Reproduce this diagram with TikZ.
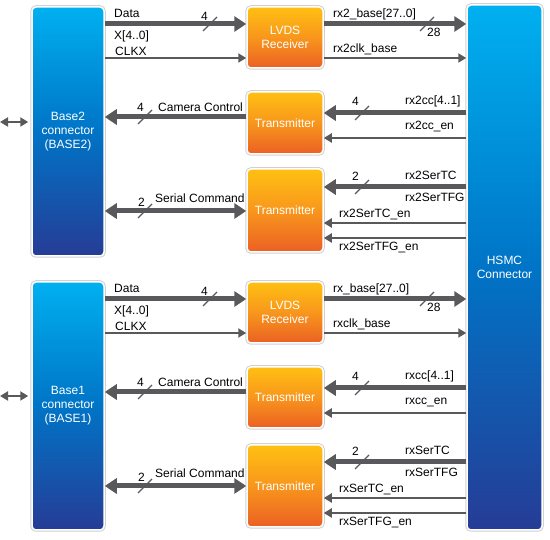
\documentclass[tikz,border=0pt]{standalone}
\usepackage{fontspec}
\setmainfont{Liberation Sans}
\usetikzlibrary{arrows.meta}

\definecolor{busGris}{RGB}{89,89,91}
\definecolor{bleuHaut}{RGB}{0,176,240}
\definecolor{bleuMilieu}{RGB}{0,116,198}
\definecolor{bleuBas}{RGB}{38,60,150}
\definecolor{orangeHaut}{RGB}{255,192,18}
\definecolor{orangeMilieu}{RGB}{248,150,28}
\definecolor{orangeBas}{RGB}{235,96,36}

\begin{document}
\begin{tikzpicture}[x=1pt,y=-1pt,font=\fontsize{12}{14}\selectfont]
    		\tikzstyle{blocBleu}=[rounded corners=4pt, draw=white, line width=1.5pt, inner sep=0pt,
    		    top color=bleuHaut, bottom color=bleuBas, middle color=bleuMilieu,
    		    text=white, align=center, preaction={draw=black!18, line width=3.5pt}]
    		\tikzstyle{blocOrange}=[rounded corners=4pt, draw=white, line width=1.5pt, inner sep=0pt,
    		    top color=orangeHaut, bottom color=orangeBas, middle color=orangeMilieu,
    		    text=white, align=center, preaction={draw=black!18, line width=3.5pt},
    		    minimum width=76pt]
    		\tikzstyle{busEpais}=[draw=busGris, line width=5pt, -{Triangle[length=12pt,width=15pt]}]
    		\tikzstyle{busDouble}=[draw=busGris, line width=5pt,
    		    {Triangle[length=12pt,width=15pt]}-{Triangle[length=12pt,width=15pt]}]
    		\tikzstyle{filFin}=[draw=busGris, line width=2.2pt, -{Triangle[length=8pt,width=9pt]}]
    		\tikzstyle{filDouble}=[draw=busGris, line width=2.2pt,
    		    {Triangle[length=8pt,width=9pt]}-{Triangle[length=8pt,width=9pt]}]
    		\tikzstyle{barre}=[draw=busGris, line width=1.2pt]
    		\tikzstyle{texte}=[inner sep=0pt, text=black]

    		\useasboundingbox (0,0) rectangle (550,540);

    		% connectors
    		\node [blocBleu, minimum width=72pt, minimum height=249pt] (base2) at (68,131.5) {Base2\\connector\\(BASE2)};
    		\node [blocBleu, minimum width=72pt, minimum height=248pt] (base1) at (68,406) {Base1\\connector\\(BASE1)};
    		\node [blocBleu, minimum width=75pt, minimum height=525pt] (hsmc) at (504.5,267.5) {HSMC\\Connector};
    		% receivers and transmitters
    		\node [blocOrange, minimum height=61pt] (lvds2) at (285,37.5) {LVDS\\Receiver};
    		\node [blocOrange, minimum height=62pt] (tx2a) at (285,123) {Transmitter};
    		\node [blocOrange, minimum height=83pt] (tx2b) at (285,210.5) {Transmitter};
    		\node [blocOrange, minimum height=61pt] (lvds1) at (285,312.5) {LVDS\\Receiver};
    		\node [blocOrange, minimum height=61pt] (tx1a) at (285,397.5) {Transmitter};
    		\node [blocOrange, minimum height=82pt] (tx1b) at (285,486) {Transmitter};

    		% BASE2 side
    		\coordinate (ext2) at (0,122);
    		\draw [filDouble] (ext2) -- ([xshift=-3pt]base2.west |- ext2);
    		\draw [busEpais] (base2.east |- 0,24) -- (lvds2.west |- 0,24);
    		\draw [filFin] (base2.east |- 0,58) -- (lvds2.west |- 0,58);
    		\draw [busEpais] (tx2a.west |- 0,117) -- (base2.east |- 0,117);
    		\draw [busDouble] (base2.east |- 0,211) -- (tx2b.west |- 0,211);
    		\draw [busEpais] (lvds2.east |- 0,24) -- (hsmc.west |- 0,24);
    		\draw [filFin] (lvds2.east |- 0,58) -- (hsmc.west |- 0,58);
    		\draw [busEpais] (hsmc.west |- 0,113) -- (tx2a.east |- 0,113);
    		\draw [filFin] (hsmc.west |- 0,138) -- (tx2a.east |- 0,138);
    		\draw [busEpais] (hsmc.west |- 0,187) -- (tx2b.east |- 0,187);
    		\draw [filFin] (hsmc.west |- 0,223) -- (tx2b.east |- 0,223);
    		\draw [filFin] (hsmc.west |- 0,238) -- (tx2b.east |- 0,238);
    		% bus widths
    		\draw [barre] (210,24) +(-7,7) -- +(7,-7);
    		\draw [barre] (145,117) +(-7,7) -- +(7,-7);
    		\draw [barre] (145,211) +(-7,7) -- +(7,-7);
    		\draw [barre] (427,24) +(-7,7) -- +(7,-7);
    		\draw [barre] (362,113) +(-7,7) -- +(7,-7);
    		\draw [barre] (362,187) +(-7,7) -- +(7,-7);
    		% labels
    		\node [texte, anchor=base west] (lData2) at (114,18) {Data};
    		\node [texte, anchor=base west] (lX2) at (114,40) {X[4..0]};
    		\node [texte, anchor=base west] (lClk2) at (115,56) {CLKX};
    		\node [texte, anchor=base] (nData2) at (204.5,21) {4};
    		\node [texte, anchor=base west] (lCam2) at (158,112) {Camera Control};
    		\node [texte, anchor=base] (nCam2) at (140.5,112) {4};
    		\node [texte, anchor=base west] (lSer2) at (155,203) {Serial Command};
    		\node [texte, anchor=base] (nSer2) at (141.5,207) {2};
    		\node [texte, anchor=base west] (lBase2) at (333,18) {rx2\_base[27..0]};
    		\node [texte, anchor=base west] (nBase2) at (427,37) {28};
    		\node [texte, anchor=base west] (lClkB2) at (333,53) {rx2clk\_base};
    		\node [texte, anchor=base west] (lCc2) at (405,105) {rx2cc[4..1]};
    		\node [texte, anchor=base] (nCc2) at (355.5,106) {4};
    		\node [texte, anchor=base west] (lCcEn2) at (405,130) {rx2cc\_en};
    		\node [texte, anchor=base west] (lTc2) at (405,180) {rx2SerTC};
    		\node [texte, anchor=base] (nTc2) at (355.5,181) {2};
    		\node [texte, anchor=base west] (lTfg2) at (405,202) {rx2SerTFG};
    		\node [texte, anchor=base west] (lTcEn2) at (339,218) {rx2SerTC\_en};
    		\node [texte, anchor=base west] (lTfgEn2) at (339,251) {rx2SerTFG\_en};

    		% BASE1 side
    		\coordinate (ext1) at (0,396);
    		\draw [filDouble] (ext1) -- ([xshift=-3pt]base1.west |- ext1);
    		\draw [busEpais] (base1.east |- 0,299) -- (lvds1.west |- 0,299);
    		\draw [filFin] (base1.east |- 0,333) -- (lvds1.west |- 0,333);
    		\draw [busEpais] (tx1a.west |- 0,392) -- (base1.east |- 0,392);
    		\draw [busDouble] (base1.east |- 0,486) -- (tx1b.west |- 0,486);
    		\draw [busEpais] (lvds1.east |- 0,299) -- (hsmc.west |- 0,299);
    		\draw [filFin] (lvds1.east |- 0,333) -- (hsmc.west |- 0,333);
    		\draw [busEpais] (hsmc.west |- 0,388) -- (tx1a.east |- 0,388);
    		\draw [filFin] (hsmc.west |- 0,413) -- (tx1a.east |- 0,413);
    		\draw [busEpais] (hsmc.west |- 0,462) -- (tx1b.east |- 0,462);
    		\draw [filFin] (hsmc.west |- 0,498) -- (tx1b.east |- 0,498);
    		\draw [filFin] (hsmc.west |- 0,513) -- (tx1b.east |- 0,513);
    		% bus widths
    		\draw [barre] (210,299) +(-7,7) -- +(7,-7);
    		\draw [barre] (145,392) +(-7,7) -- +(7,-7);
    		\draw [barre] (145,486) +(-7,7) -- +(7,-7);
    		\draw [barre] (427,299) +(-7,7) -- +(7,-7);
    		\draw [barre] (362,388) +(-7,7) -- +(7,-7);
    		\draw [barre] (362,462) +(-7,7) -- +(7,-7);
    		% labels
    		\node [texte, anchor=base west] (lData1) at (114,293) {Data};
    		\node [texte, anchor=base west] (lX1) at (114,315) {X[4..0]};
    		\node [texte, anchor=base west] (lClk1) at (115,331) {CLKX};
    		\node [texte, anchor=base] (nData1) at (204.5,296) {4};
    		\node [texte, anchor=base west] (lCam1) at (158,387) {Camera Control};
    		\node [texte, anchor=base] (nCam1) at (140.5,387) {4};
    		\node [texte, anchor=base west] (lSer1) at (155,478) {Serial Command};
    		\node [texte, anchor=base] (nSer1) at (141.5,482) {2};
    		\node [texte, anchor=base west] (lBase1) at (333,293) {rx\_base[27..0]};
    		\node [texte, anchor=base west] (nBase1) at (427,312) {28};
    		\node [texte, anchor=base west] (lClkB1) at (333,328) {rxclk\_base};
    		\node [texte, anchor=base west] (lCc1) at (405,380) {rxcc[4..1]};
    		\node [texte, anchor=base] (nCc1) at (355.5,381) {4};
    		\node [texte, anchor=base west] (lCcEn1) at (405,405) {rxcc\_en};
    		\node [texte, anchor=base west] (lTc1) at (405,455) {rxSerTC};
    		\node [texte, anchor=base] (nTc1) at (355.5,456) {2};
    		\node [texte, anchor=base west] (lTfg1) at (405,477) {rxSerTFG};
    		\node [texte, anchor=base west] (lTcEn1) at (339,493) {rxSerTC\_en};
    		\node [texte, anchor=base west] (lTfgEn1) at (339,526) {rxSerTFG\_en};

		\end{tikzpicture}
\end{document}
